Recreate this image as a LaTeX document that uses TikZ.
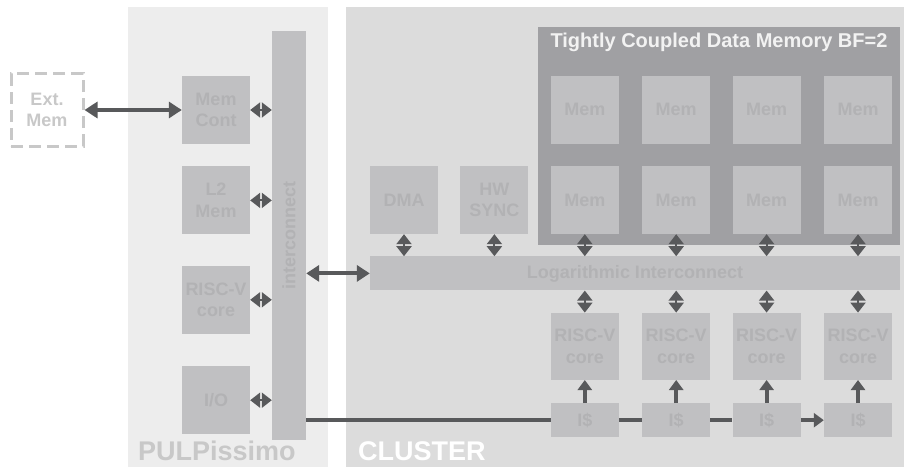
\documentclass[tikz,border=0pt]{standalone}
\usepackage{fontspec}
\setmainfont{Liberation Sans}
\usetikzlibrary{arrows.meta, positioning}
\definecolor{pulpbg}{RGB}{237,237,237}
\definecolor{clusterbg}{RGB}{220,220,220}
\definecolor{boxgray}{RGB}{192,192,194}
\definecolor{boxtext}{RGB}{178,178,180}
\definecolor{tcdmgray}{RGB}{160,160,163}
\definecolor{arrowgray}{RGB}{88,89,91}
\definecolor{labelgray}{RGB}{200,200,200}
\tikzset{
    region/.style={rectangle, fill=#1, inner sep=0pt},
    unit/.style={
        rectangle, fill=boxgray, text=boxtext,
        minimum width=68pt, minimum height=68pt, inner sep=0pt,
        align=center, font=\fontsize{18}{21.5}\selectfont\bfseries
    },
    bar/.style={unit, minimum height=34pt},
    offchip/.style={
        rectangle, draw=labelgray, line width=3pt, dash pattern=on 12pt off 6pt,
        text=labelgray, minimum width=72pt, minimum height=72pt, inner sep=0pt,
        align=center, font=\fontsize{18}{21.5}\selectfont\bfseries
    },
    tag/.style={inner sep=0pt, font=\fontsize{27}{30}\selectfont\bfseries},
    % Connector Styles
    biglink/.style={draw=arrowgray, line width=4pt, {Triangle[length=13pt,width=16pt]}-{Triangle[length=13pt,width=16pt]}},
    port/.style={draw=arrowgray, line width=2pt, {Triangle[length=10pt,width=15pt]}-{Triangle[length=10pt,width=15pt]}},
    feed/.style={draw=arrowgray, line width=4pt, -{Triangle[length=10pt,width=14pt]}},
    chain/.style={draw=arrowgray, line width=4pt}
}

\begin{document}
\begin{tikzpicture}[x=1pt, y=1pt]
        \useasboundingbox (0,0) rectangle (904,467);
        % Backgrounds
        \node (pulp) [region=pulpbg, minimum width=200pt, minimum height=460pt, anchor=south west] at (128,0) {};
        \node (cluster) [region=clusterbg, minimum width=558pt, minimum height=460pt, anchor=south west] at (346,0) {};
        \node (pulplabel) [tag, text=labelgray, anchor=base west] at (138,7) {PULPissimo};
        \node (clusterlabel) [tag, text=white, anchor=base west] at (358,7) {CLUSTER};

        % PULPissimo side
        \node (extmem) [offchip] at (47,357) {Ext.\\Mem};
        \node (memcont) [unit] at (216,357) {Mem\\Cont};
        \node (l2mem) [unit, below=22pt of memcont] {L2\\Mem};
        \node (fccore) [unit, below=31pt of l2mem] {RISC-V\\core};
        \node (io) [unit, below=32pt of fccore] {I/O};
        \node (icon) [bar, rotate=90, minimum width=409pt] at (289,231.5) {interconnect};

        % Cluster side
        \node (tcdm) [region=tcdmgray, minimum width=362pt, minimum height=218pt] at (719,331) {};
        \node (tcdmtitle) [text=white!90!gray, font=\fontsize{20}{23}\selectfont\bfseries] at ([yshift=-16pt]tcdm.north) {Tightly Coupled Data Memory BF=2};
        \node (dma) [unit] at (404,267) {DMA};
        \node (hwsync) [unit, right=22pt of dma] {HW\\SYNC};
        \node (mem21) [unit, right=22pt of hwsync] {Mem};
        \node (mem22) [unit, right=23pt of mem21] {Mem};
        \node (mem23) [unit, right=22pt of mem22] {Mem};
        \node (mem24) [unit, right=23pt of mem23] {Mem};
        \node (mem11) [unit, above=22pt of mem21] {Mem};
        \node (mem12) [unit, above=22pt of mem22] {Mem};
        \node (mem13) [unit, above=22pt of mem23] {Mem};
        \node (mem14) [unit, above=22pt of mem24] {Mem};
        \node (log) [bar, minimum width=530pt, anchor=north west] at ([yshift=-22pt]dma.south west) {Logarithmic Interconnect};
        \node (core1) [unit, minimum height=67pt, anchor=north] at ([yshift=-22pt]mem21 |- log.south) {RISC-V\\core};
        \node (core2) [unit, minimum height=67pt, right=23pt of core1] {RISC-V\\core};
        \node (core3) [unit, minimum height=67pt, right=22pt of core2] {RISC-V\\core};
        \node (core4) [unit, minimum height=67pt, right=23pt of core3] {RISC-V\\core};
        \node (ic1) [bar, below=23pt of core1] {I\$};
        \node (ic2) [bar, below=23pt of core2] {I\$};
        \node (ic3) [bar, below=23pt of core3] {I\$};
        \node (ic4) [bar, below=23pt of core4] {I\$};

        % Connectors
        \draw [biglink] (extmem) -- (memcont);
        \draw [port] (memcont) -- (memcont -| icon.north);
        \draw [port] (l2mem) -- (l2mem -| icon.north);
        \draw [port] (fccore) -- (fccore -| icon.north);
        \draw [port] (io) -- (io -| icon.north);
        \draw [biglink] (log.west -| icon.south) -- (log.west);
        \draw [port] (dma) -- (dma |- log.north);
        \draw [port] (hwsync) -- (hwsync |- log.north);
        \draw [port] (mem21) -- (mem21 |- log.north);
        \draw [port] (mem22) -- (mem22 |- log.north);
        \draw [port] (mem23) -- (mem23 |- log.north);
        \draw [port] (mem24) -- (mem24 |- log.north);
        \draw [port] (core1) -- (core1 |- log.south);
        \draw [port] (core2) -- (core2 |- log.south);
        \draw [port] (core3) -- (core3 |- log.south);
        \draw [port] (core4) -- (core4 |- log.south);
        \draw [feed] (ic1) -- (core1);
        \draw [feed] (ic2) -- (core2);
        \draw [feed] (ic3) -- (core3);
        \draw [feed] (ic4) -- (core4);
        \draw [chain] (ic1.west -| icon.south) -- (ic1.west);
        \draw [chain] (ic1) -- (ic2);
        \draw [chain] (ic2) -- (ic3);
        \draw [feed] (ic3) -- (ic4);
    \end{tikzpicture}
\end{document}
